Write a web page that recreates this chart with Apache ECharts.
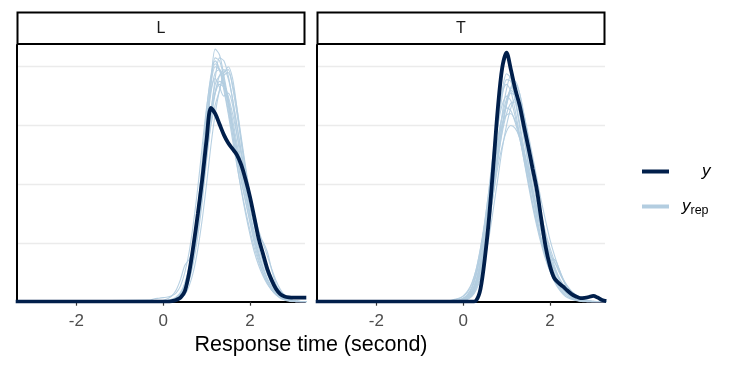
<!DOCTYPE html>
<html><head><meta charset="utf-8">
<script src="https://cdn.jsdelivr.net/npm/echarts@6/dist/echarts.min.js"></script>
<style>html,body{margin:0;padding:0;background:#fff}#c{width:734px;height:367px}</style>
</head><body><div id="c"></div>
<script>
// ---- data ----
const panels = ['L', 'T'];
const xTicks = [-2, 0, 2];
const xTitle = 'Response time (second)';
const xGrid = [-3.4,-0.3,-0.2,-0.1,0.0,0.1,0.2,0.3,0.4,0.5,0.6,0.7,0.8,0.9,1.0,1.1,1.2,1.3,1.4,1.5,1.6,1.7,1.8,1.9,2.0,2.1,2.2,2.3,2.4,2.5,2.6,2.7,2.8,2.9,3.0,3.1,3.2,3.3];

// observed density (y)
const yL = [0,0,0,0,0,0,0.01,0.03,0.07,0.18,0.5,0.97,1.5,2.08,2.75,3.30,3.20,3.02,2.84,2.70,2.60,2.50,2.33,2.08,1.79,1.44,1.08,0.82,0.56,0.37,0.22,0.13,0.09,0.075,0.07,0.07,0.07,0.07];
const yT = [0,0,0,0,0,0,0,0.02,0.22,0.74,1.45,2.36,3.30,3.98,4.24,3.95,3.62,3.35,2.99,2.64,2.27,1.90,1.41,0.94,0.61,0.40,0.32,0.26,0.19,0.13,0.09,0.06,0.065,0.08,0.10,0.07,0.03,0.01];

// replicated densities (y_rep), panel L
const yrepL = [
  [0,0,0,0,0.01,0.02,0.03,0.06,0.13,0.3,0.58,0.98,1.5,2.15,2.95,3.75,4.3,4.2,3.85,3.45,3.0,2.6,2.2,1.82,1.45,1.1,0.8,0.56,0.37,0.23,0.13,0.07,0.035,0.02,0.01,0,0,0],
  [0,0,0,0,0.01,0.02,0.03,0.05,0.1,0.22,0.45,0.82,1.3,1.9,2.6,3.25,3.7,3.85,3.9,4.0,3.8,3.3,2.75,2.25,1.8,1.4,1.05,0.75,0.52,0.34,0.2,0.11,0.06,0.03,0.01,0,0,0],
  [0,0,0,0,0.02,0.05,0.1,0.2,0.38,0.62,0.72,0.9,1.4,2.1,2.9,3.55,3.9,3.95,3.75,3.4,3.0,2.6,2.2,1.85,1.5,1.15,0.85,0.6,0.4,0.26,0.16,0.09,0.05,0.02,0.01,0,0,0],
  [0,0,0,0,0,0.01,0.02,0.04,0.1,0.25,0.5,0.9,1.4,2.0,2.65,3.2,3.55,3.7,3.65,3.45,3.1,2.7,2.3,1.95,1.6,1.3,1.1,1.02,0.85,0.55,0.3,0.15,0.07,0.03,0.01,0,0,0],
  [0,0.03,0.05,0.06,0.07,0.08,0.1,0.15,0.27,0.5,0.85,1.35,1.95,2.65,3.3,3.8,4.05,3.95,3.65,3.25,2.85,2.45,2.05,1.7,1.35,1.0,0.72,0.5,0.33,0.2,0.12,0.06,0.03,0.01,0,0,0,0],
  [0,0,0,0,0,0,0.01,0.03,0.07,0.17,0.38,0.72,1.2,1.8,2.5,3.2,3.8,4.15,4.1,3.85,3.45,3.0,2.55,2.15,1.75,1.4,1.05,0.78,0.55,0.37,0.23,0.13,0.07,0.03,0.01,0,0,0],
  [0,0,0,0,0.01,0.02,0.04,0.08,0.16,0.32,0.6,1.0,1.55,2.25,3.0,3.6,3.8,3.65,3.5,3.55,3.35,2.85,2.35,1.9,1.5,1.2,0.92,0.68,0.47,0.3,0.18,0.1,0.05,0.02,0.01,0,0,0],
  [0,0,0,0,0,0.01,0.02,0.04,0.09,0.2,0.42,0.8,1.35,2.05,2.9,3.7,4.15,4.1,3.8,3.35,2.85,2.35,1.9,1.5,1.15,0.85,0.62,0.44,0.3,0.2,0.12,0.07,0.04,0.02,0.01,0,0,0],
  [0,0,0,0,0,0.01,0.02,0.04,0.08,0.18,0.36,0.68,1.12,1.7,2.4,3.05,3.55,3.85,3.95,3.8,3.45,3.0,2.55,2.1,1.72,1.38,1.08,0.82,0.6,0.42,0.28,0.18,0.1,0.05,0.02,0.01,0,0],
  [0,0,0,0,0.01,0.02,0.04,0.07,0.14,0.3,0.58,1.0,1.6,2.3,3.1,3.7,4.0,3.95,3.7,3.35,2.95,2.5,2.1,1.72,1.38,1.05,0.78,0.56,0.38,0.25,0.15,0.09,0.05,0.02,0.01,0,0,0],
  [0,0,0,0,0,0,0.01,0.02,0.05,0.12,0.27,0.52,0.9,1.4,2.0,2.65,3.2,3.6,3.85,3.9,3.7,3.3,2.8,2.3,1.85,1.45,1.1,0.8,0.56,0.37,0.22,0.12,0.06,0.03,0.01,0,0,0],
  [0,0,0,0,0.01,0.02,0.03,0.06,0.12,0.26,0.5,0.88,1.38,1.98,2.62,3.2,3.58,3.75,3.7,3.5,3.2,2.85,2.5,2.15,1.82,1.5,1.22,1.0,0.78,0.56,0.36,0.21,0.11,0.05,0.02,0.01,0,0],
  [0,0,0,0,0,0.01,0.02,0.05,0.11,0.25,0.52,0.95,1.6,2.4,3.25,3.85,4.1,3.95,3.6,3.2,2.75,2.32,1.92,1.55,1.22,0.92,0.68,0.48,0.32,0.2,0.12,0.07,0.04,0.02,0.01,0,0,0],
  [0,0,0,0,0,0.01,0.02,0.04,0.09,0.2,0.4,0.75,1.22,1.8,2.45,3.0,3.35,3.6,3.9,3.95,3.65,3.2,2.7,2.22,1.8,1.42,1.1,0.82,0.58,0.4,0.26,0.16,0.09,0.05,0.02,0.01,0,0]
];

// replicated densities (y_rep), panel T
const yrepT = [
  [0,0,0.01,0.02,0.05,0.1,0.22,0.45,0.8,1.25,1.8,2.45,3.1,3.6,3.88,3.8,3.45,3.05,2.62,2.2,1.8,1.42,1.08,0.8,0.57,0.4,0.27,0.17,0.1,0.06,0.03,0.01,0,0,0,0,0,0],
  [0,0,0.01,0.02,0.04,0.09,0.18,0.35,0.62,0.98,1.4,1.85,2.3,2.65,2.9,3.0,2.95,2.8,2.55,2.25,1.92,1.6,1.3,1.02,0.78,0.58,0.42,0.3,0.2,0.12,0.07,0.04,0.02,0.01,0,0,0,0],
  [0,0,0,0.01,0.02,0.05,0.12,0.28,0.55,0.92,1.4,1.95,2.5,3.0,3.4,3.65,3.75,3.55,3.15,2.7,2.25,1.82,1.42,1.08,0.82,0.68,0.55,0.38,0.24,0.14,0.08,0.04,0.02,0.01,0,0,0,0],
  [0,0.02,0.03,0.05,0.09,0.16,0.3,0.55,0.92,1.38,1.92,2.5,3.0,3.35,3.5,3.42,3.15,2.8,2.42,2.05,1.68,1.35,1.05,0.8,0.58,0.42,0.3,0.2,0.13,0.08,0.05,0.03,0.01,0,0,0,0,0],
  [0,0,0.01,0.02,0.04,0.08,0.17,0.35,0.68,1.1,1.6,2.15,2.7,3.15,3.45,3.6,3.5,3.2,2.8,2.38,1.95,1.55,1.2,0.9,0.65,0.46,0.32,0.21,0.13,0.08,0.04,0.02,0.01,0,0,0,0,0],
  [0,0,0.01,0.03,0.06,0.12,0.25,0.48,0.82,1.25,1.75,2.3,2.8,3.15,3.3,3.25,3.05,2.78,2.48,2.15,1.82,1.5,1.2,0.95,0.72,0.55,0.4,0.28,0.18,0.11,0.06,0.03,0.01,0,0,0,0,0],
  [0,0,0,0.01,0.02,0.04,0.1,0.22,0.45,0.82,1.32,1.92,2.58,3.2,3.62,3.85,3.7,3.3,2.82,2.32,1.85,1.42,1.05,0.75,0.52,0.35,0.22,0.13,0.07,0.04,0.02,0.01,0,0,0,0,0,0],
  [0,0,0.01,0.02,0.03,0.06,0.14,0.3,0.58,0.95,1.42,1.95,2.45,2.88,3.2,3.38,3.4,3.25,2.95,2.58,2.2,1.82,1.48,1.18,0.92,0.7,0.52,0.38,0.27,0.18,0.12,0.08,0.05,0.02,0.01,0,0,0],
  [0,0.01,0.02,0.03,0.06,0.12,0.24,0.48,0.85,1.35,1.95,2.6,3.15,3.55,3.7,3.58,3.25,2.85,2.42,2.0,1.62,1.28,0.98,0.72,0.52,0.36,0.24,0.15,0.09,0.05,0.03,0.01,0,0,0,0,0,0],
  [0,0,0,0.01,0.03,0.07,0.15,0.32,0.62,1.02,1.5,2.02,2.55,3.0,3.35,3.55,3.5,3.28,2.92,2.5,2.08,1.68,1.3,0.98,0.72,0.5,0.34,0.22,0.14,0.08,0.05,0.03,0.01,0,0,0,0,0],
  [0,0,0,0.01,0.02,0.05,0.11,0.25,0.5,0.86,1.32,1.85,2.4,2.92,3.35,3.62,3.7,3.55,3.2,2.78,2.32,1.9,1.5,1.15,0.86,0.62,0.43,0.29,0.18,0.11,0.06,0.03,0.01,0,0,0,0,0],
  [0,0.02,0.04,0.06,0.1,0.18,0.32,0.55,0.9,1.32,1.8,2.3,2.72,3.02,3.18,3.2,3.08,2.85,2.55,2.22,1.88,1.55,1.25,0.98,0.75,0.56,0.4,0.28,0.19,0.12,0.07,0.04,0.02,0.01,0,0,0,0],
  [0,0,0.01,0.02,0.04,0.08,0.18,0.38,0.72,1.18,1.75,2.4,3.0,3.5,3.78,3.75,3.42,2.98,2.52,2.08,1.68,1.32,1.02,0.8,0.7,0.72,0.58,0.38,0.22,0.12,0.06,0.03,0.01,0,0,0,0,0],
  [0,0,0,0.01,0.02,0.04,0.09,0.2,0.4,0.72,1.12,1.6,2.1,2.6,3.0,3.3,3.45,3.4,3.18,2.85,2.48,2.1,1.72,1.38,1.06,0.8,0.58,0.4,0.26,0.16,0.09,0.05,0.02,0.01,0,0,0,0]
];

// ---- build chart ----
const FONT = 'Liberation Sans, Arial, sans-serif';
const DARK = '#011f4b';
const LIGHT = '#b3cde0';
const obs = [yL, yT];
const reps = [yrepL, yrepT];
const pairs = vals => vals.map((v, i) => [xGrid[i], v]);

const gridLefts = [17, 317];
const grids = gridLefts.map(l => ({ left: l, top: 45, width: 288, height: 256.7 }));

const xAxes = panels.map((p, i) => ({
  gridIndex: i, type: 'value', min: -3.37, max: 3.27,
  axisLine: { show: true, onZero: false, lineStyle: { color: '#000', width: 2 } },
  axisTick: { show: true, customValues: xTicks, length: 4, lineStyle: { color: '#333', width: 1.2 } },
  axisLabel: { customValues: xTicks, color: '#4d4d4d', fontSize: 17, margin: 11, fontFamily: FONT },
  splitLine: { show: false }
}));
const yAxes = panels.map((p, i) => ({
  gridIndex: i, type: 'value', min: 0, max: 4.37, interval: 1,
  axisLine: { show: true, onZero: false, lineStyle: { color: '#000', width: 2 } },
  axisTick: { show: false }, axisLabel: { show: false },
  splitLine: { show: true, showMinLine: false, showMaxLine: false, lineStyle: { color: '#ebebeb', width: 1.4 } }
}));

const series = [];
panels.forEach((p, i) => {
  reps[i].forEach(r => series.push({
    name: 'yrep', type: 'line', xAxisIndex: i, yAxisIndex: i, data: pairs(r),
    showSymbol: false, symbol: 'none', smooth: 0.3, color: LIGHT,
    lineStyle: { color: LIGHT, width: 1.1, opacity: 0.95 }, silent: true, z: 2
  }));
});
panels.forEach((p, i) => {
  series.push({
    name: 'y', type: 'line', xAxisIndex: i, yAxisIndex: i, data: pairs(obs[i]),
    showSymbol: false, symbol: 'none', smooth: 0.3, color: DARK,
    lineStyle: { color: DARK, width: 3.8 }, silent: true, z: 5
  });
});

const rich = {
  p: { width: 28 }, q: { width: 8 },
  i: { fontStyle: 'italic', fontSize: 17, fontFamily: FONT, color: '#000' },
  s: { fontSize: 12.5, fontFamily: FONT, color: '#000', padding: [8, 0, 0, 0] }
};
const legendBase = {
  orient: 'vertical', left: 642, icon: 'rect', itemWidth: 27, itemHeight: 4, padding: 0,
  selectedMode: false, textStyle: { rich: rich }
};

const graphics = [];
panels.forEach((p, i) => {
  graphics.push({ type: 'rect', shape: { x: gridLefts[i] + 0.5, y: 12.5, width: 287, height: 31.5 },
    style: { fill: '#fff', stroke: '#000', lineWidth: 2 }, z: 10 });
  graphics.push({ type: 'text', x: gridLefts[i] + 144, y: 28.5,
    style: { text: p, fontSize: 16, fontFamily: FONT, fill: '#1a1a1a', textAlign: 'center', textVerticalAlign: 'middle' }, z: 11 });
});
graphics.push({ type: 'text', x: 311, y: 345,
  style: { text: xTitle, fontSize: 21.5, fontFamily: FONT, fill: '#000', textAlign: 'center', textVerticalAlign: 'middle' } });

const chart = echarts.init(document.getElementById('c'), null, { renderer: 'canvas' });
chart.setOption({
  animation: false,
  backgroundColor: '#fff',
  grid: grids, xAxis: xAxes, yAxis: yAxes, series: series,
  legend: [
    Object.assign({}, legendBase, { top: 163, data: ['y'], formatter: () => '{p|}{i|y}' }),
    Object.assign({}, legendBase, { top: 198, data: ['yrep'], formatter: () => '{q|}{i|y}{s|rep}' })
  ],
  graphic: graphics
});
</script></body></html>
